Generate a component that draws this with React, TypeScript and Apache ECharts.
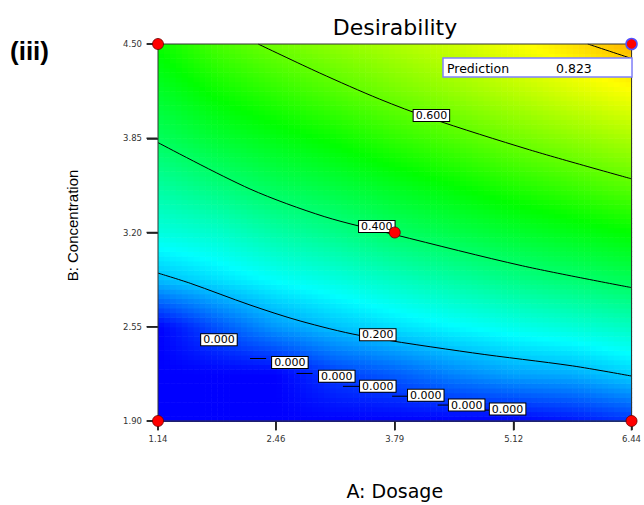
import React, { useEffect, useRef } from "react";
import * as echarts from "echarts";

// Grid of factor levels (A: Dosage across, B: Concentration up)
const dosageLevels = [1.14, 1.8025, 2.465, 3.1275, 3.79, 4.4525, 5.115, 5.7775, 6.44];
const concentrationLevels = [1.9, 2.225, 2.55, 2.875, 3.2, 3.525, 3.85, 4.175, 4.5];

// Desirability, one row per concentration level
const dRow190 = [0, 0, 0, 0, 0, 0, 0, 0.02, 0.05];
const dRow223 = [0, 0, 0, 0.06, 0.09, 0.13, 0.16, 0.17, 0.205];
const dRow255 = [0, 0.08, 0.15, 0.19, 0.22, 0.246, 0.268, 0.287, 0.31];
const dRow288 = [0.185, 0.22, 0.254, 0.28, 0.31, 0.34, 0.368, 0.39, 0.415];
const dRow320 = [0.28, 0.3, 0.337, 0.366, 0.4, 0.428, 0.453, 0.476, 0.5];
const dRow353 = [0.345, 0.38, 0.415, 0.44, 0.47, 0.5, 0.531, 0.558, 0.588];
const dRow385 = [0.41, 0.45, 0.48, 0.51, 0.546, 0.577, 0.61, 0.638, 0.667];
const dRow418 = [0.46, 0.51, 0.546, 0.58, 0.615, 0.647, 0.68, 0.714, 0.746];
const dRow450 = [0.51, 0.57, 0.61, 0.64, 0.67, 0.7, 0.74, 0.78, 0.823];
const desirabilityRows = [dRow190, dRow223, dRow255, dRow288, dRow320, dRow353, dRow385, dRow418, dRow450];

// Contour lines [dosage, concentration]
const contour020 = [[1.14, 2.92], [1.5, 2.85], [2.17, 2.7], [2.73, 2.59], [3.4, 2.49], [4.66, 2.37], [5.78, 2.28], [6.44, 2.21]];
const contour040 = [[1.14, 3.82], [2.17, 3.5], [3.0, 3.31], [3.79, 3.185], [5.22, 2.97], [6.44, 2.82]];
const contour060 = [[2.26, 4.5], [2.95, 4.3], [3.62, 4.12], [4.18, 3.99], [5.3, 3.77], [6.44, 3.57]];
const contour080 = [[5.95, 4.5], [6.44, 4.4]];
const contour000Pieces = [
  [[2.17, 2.331], [2.35, 2.331]],
  [[2.69, 2.228], [2.87, 2.228]],
  [[3.21, 2.139], [3.4, 2.139]],
  [[3.76, 2.071], [3.94, 2.071]],
  [[4.27, 2.01], [4.43, 2.01]],
  [[4.8, 1.975], [4.87, 1.975]],
];
const contourLabelTexts = ["0.600", "0.400", "0.200", "0.000", "0.000", "0.000", "0.000", "0.000", "0.000", "0.000"];
const contourLabelAt = [
  [4.2, 4.007], [3.589, 3.241], [3.6, 2.495],
  [1.822, 2.461], [2.616, 2.304], [3.141, 2.208], [3.6, 2.14], [4.137, 2.078], [4.595, 2.01], [5.053, 1.982],
];

const designPoints = [[1.14, 4.5], [1.14, 1.9], [6.44, 1.9], [3.79, 3.2]];
const optimumPoint = [6.44, 4.5];
const predictionValue = 0.823;

const xTickValues = [1.14, 2.46, 3.79, 5.12, 6.44];
const yTickValues = [1.9, 2.55, 3.2, 3.85, 4.5];

const colorStops: [number, number[]][] = [
  [0, [0, 0, 255]],
  [0.25, [0, 255, 255]],
  [0.5, [0, 255, 0]],
  [0.75, [255, 255, 0]],
  [1, [255, 0, 0]],
];

function colorOf(v: number) {
  const t = Math.max(0, Math.min(1, v));
  for (let k = 0; k < colorStops.length - 1; k++) {
    const [a, ca] = colorStops[k];
    const [b, cb] = colorStops[k + 1];
    if (t <= b) {
      const f = (t - a) / (b - a);
      const c = ca.map((x, i) => Math.round(x + (cb[i] - x) * f));
      return `rgb(${c[0]},${c[1]},${c[2]})`;
    }
  }
  return "rgb(255,0,0)";
}

const FONT = "DejaVu Sans";

export default function App() {
  const ref = useRef<HTMLDivElement>(null);
  useEffect(() => {
    if (!ref.current) return;
    const chart = echarts.init(ref.current, null, { renderer: "svg" });

    const cells: number[][] = [];
    for (let j = 0; j < concentrationLevels.length - 1; j++) {
      for (let i = 0; i < dosageLevels.length - 1; i++) {
        cells.push([
          dosageLevels[i], dosageLevels[i + 1],
          concentrationLevels[j], concentrationLevels[j + 1],
          desirabilityRows[j][i], desirabilityRows[j][i + 1],
          desirabilityRows[j + 1][i], desirabilityRows[j + 1][i + 1],
        ]);
      }
    }
    const N = 10;
    const renderCell = (_p: any, api: any) => {
      const x0 = api.value(0), x1 = api.value(1), y0 = api.value(2), y1 = api.value(3);
      const v00 = api.value(4), v10 = api.value(5), v01 = api.value(6), v11 = api.value(7);
      const p0 = api.coord([x0, y0]);
      const p1 = api.coord([x1, y1]);
      const w = (p1[0] - p0[0]) / N;
      const h = (p0[1] - p1[1]) / N;
      const children: any[] = [];
      for (let a = 0; a < N; a++) {
        for (let b = 0; b < N; b++) {
          const u = (a + 0.5) / N, s = (b + 0.5) / N;
          const v = v00 * (1 - u) * (1 - s) + v10 * u * (1 - s) + v01 * (1 - u) * s + v11 * u * s;
          children.push({
            type: "rect",
            shape: { x: p0[0] + a * w, y: p0[1] - (b + 1) * h, width: w + 0.6, height: h + 0.6 },
            style: { fill: colorOf(v) },
          });
        }
      }
      return { type: "group", children };
    };

    const renderLabel = (params: any, api: any) => {
      const p = api.coord([api.value(0), api.value(1)]);
      return {
        type: "text",
        x: p[0],
        y: p[1],
        style: {
          text: contourLabelTexts[params.dataIndex],
          fontFamily: FONT, fontSize: 11, fill: "#000",
          align: "center", verticalAlign: "middle",
          backgroundColor: "#ffffff", borderColor: "#000000", borderWidth: 1,
          padding: [0, 2, 0, 2], lineHeight: 11,
        },
      };
    };

    const lineSeries = (data: number[][]) => ({
      type: "line",
      data,
      symbol: "none",
      smooth: 0.3,
      silent: true,
      z: 3,
      lineStyle: { color: "#000", width: 1 },
    });

    chart.setOption({
      animation: false,
      grid: { left: 158, right: 12, top: 44, bottom: 81, show: true, borderColor: "#333", borderWidth: 1, backgroundColor: "transparent", z: 8 },
      xAxis: {
        type: "value", min: 1.14, max: 6.44,
        name: "A: Dosage", nameLocation: "middle", nameGap: 60,
        nameTextStyle: { fontFamily: FONT, fontSize: 19, color: "#000" },
        axisLine: { show: true, onZero: false, lineStyle: { color: "#222", width: 1 } },
        axisTick: { show: true, customValues: xTickValues, length: 9, lineStyle: { color: "#111", width: 1.5 } },
        axisLabel: { customValues: xTickValues, formatter: (v: number) => v.toFixed(2), fontFamily: FONT, fontSize: 8.5, color: "#333", margin: 13 },
        splitLine: { show: false },
      },
      yAxis: {
        type: "value", min: 1.9, max: 4.5,
        name: "B: Concentration", nameLocation: "middle", nameGap: 78, nameRotate: 90,
        nameTextStyle: { fontFamily: "Liberation Sans", fontSize: 15, color: "#000", padding: [0, 0, 0, 14] },
        axisLine: { show: true, onZero: false, lineStyle: { color: "#222", width: 1 } },
        axisTick: { show: true, customValues: yTickValues, length: 11, lineStyle: { color: "#111", width: 1.5 } },
        axisLabel: { customValues: yTickValues, formatter: (v: number) => v.toFixed(2), fontFamily: FONT, fontSize: 8.5, color: "#333", margin: 16 },
        splitLine: { show: false },
      },
      series: [
        {
          type: "custom",
          coordinateSystem: "cartesian2d",
          data: cells,
          encode: { x: [0, 1], y: [2, 3] },
          renderItem: renderCell,
          silent: true,
          z: 1,
        },
        lineSeries(contour020),
        lineSeries(contour040),
        lineSeries(contour060),
        lineSeries(contour080),
        ...contour000Pieces.map((p) => ({ ...lineSeries(p), smooth: false })),
        {
          type: "custom",
          coordinateSystem: "cartesian2d",
          data: contourLabelAt,
          renderItem: renderLabel,
          silent: true,
          z: 5,
        },
        // tick marks along the bottom axis
        {
          type: "scatter",
          data: xTickValues.map((v) => [v, 1.9]),
          symbol: "rect",
          symbolSize: [1.5, 9],
          symbolOffset: [0, 5],
          clip: false,
          silent: true,
          z: 9,
          itemStyle: { color: "#222", opacity: 1 },
        },
        // tick marks along the left axis
        {
          type: "scatter",
          data: yTickValues.map((v) => [1.14, v]),
          symbol: "rect",
          symbolSize: [11, 1.5],
          symbolOffset: [-6, 0],
          clip: false,
          silent: true,
          z: 9,
          itemStyle: { color: "#222", opacity: 1 },
        },
        {
          type: "scatter",
          data: designPoints,
          symbolSize: 11,
          clip: false,
          silent: true,
          z: 10,
          itemStyle: { color: "#ff0000", borderColor: "#600", borderWidth: 0.8, opacity: 1 },
        },
        {
          type: "scatter",
          data: [optimumPoint],
          symbolSize: 11,
          clip: false,
          silent: true,
          z: 10,
          itemStyle: { color: "#ff0000", borderColor: "#5050ff", borderWidth: 1.5, opacity: 1 },
        },
      ],
      graphic: [
        {
          type: "text", x: 395, y: 27, z: 20,
          style: { text: "Desirability", fontFamily: FONT, fontSize: 22, fill: "#000", textAlign: "center", textVerticalAlign: "middle" },
        },
        {
          type: "text", x: 10, y: 51, z: 20,
          style: { text: "(iii)", fontFamily: "Liberation Sans", fontWeight: "bold", fontSize: 26, fill: "#000", textAlign: "left", textVerticalAlign: "middle" },
        },
        { type: "rect", z: 20, shape: { x: 443, y: 58, width: 189, height: 19 }, style: { fill: "#fff", stroke: "#8080ff", lineWidth: 1.5 } },
        { type: "text", z: 21, x: 447, y: 68, style: { text: "Prediction", fontFamily: FONT, fontSize: 12.5, fill: "#000", textVerticalAlign: "middle" } },
        { type: "text", z: 21, x: 556, y: 68, style: { text: predictionValue.toFixed(3), fontFamily: FONT, fontSize: 12.5, fill: "#000", textVerticalAlign: "middle" } },
      ],
    });
    return () => chart.dispose();
  }, []);
  return <div ref={ref} style={{ position: "absolute", left: 0, top: 0, width: 644, height: 505 }} />;
}
